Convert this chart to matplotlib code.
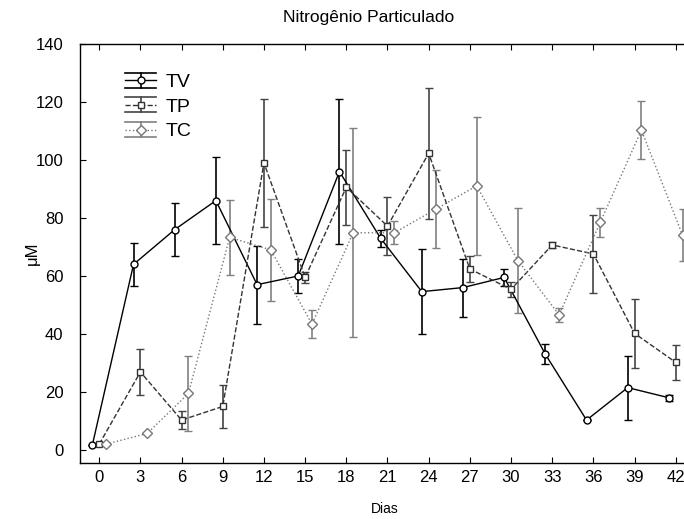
import numpy as np
import matplotlib.pyplot as plt
from matplotlib.legend_handler import HandlerBase
from matplotlib.lines import Line2D
from matplotlib.container import ErrorbarContainer

plt.rcParams['font.family'] = ['Liberation Sans', 'DejaVu Sans']

dias = [0, 3, 6, 9, 12, 15, 18, 21, 24, 27, 30, 33, 36, 39, 42]

tv = [1.7, 64, 76, 86, 57, 60, 96, 73, 54.6, 56, 59.5, 33, 10.3, 21.5, 18]
tv_err = [0, 7.4, 9, 15, 13.5, 6, 25, 3, 14.6, 10, 3, 3.5, 0, 11, 1]

tp = [2, 26.9, 10.3, 15, 99, 59.5, 90.6, 77.2, 102.3, 62.4, 55.4, 70.7, 67.6, 40.2, 30.2]
tp_err = [0, 8, 3, 7.3, 22, 2, 13, 10, 22.5, 4.5, 2.6, 1, 13.3, 12, 6]

tc = [2, 5.7, 19.5, 73.3, 69, 43.4, 74.9, 74.9, 83, 91.1, 65.3, 46.6, 78.5, 110.3, 74]
tc_err = [0, 0, 13, 13, 17.7, 4.8, 36, 4, 13.5, 23.7, 18, 2.4, 4.9, 10, 9]


class CapHandler(HandlerBase):
    # legend key: line + marker with an error bar whose caps span the key width
    def create_artists(self, legend, orig_handle, xdescent, ydescent,
                       width, height, fontsize, trans):
        data_line = orig_handle[0]
        bar = orig_handle[2][0]
        x0, x1 = -xdescent, -xdescent + width
        xc = (x0 + x1) / 2
        yc = height / 2 - ydescent
        d = height * 0.55
        ecol = bar.get_color()[0]
        line = Line2D([x0, x1], [yc, yc], linestyle=data_line.get_linestyle(),
                      color=data_line.get_color(), lw=1)
        vbar = Line2D([xc, xc], [yc - d, yc + d], color=ecol, lw=1.2)
        cap_lo = Line2D([x0, x1], [yc - d, yc - d], color=ecol, lw=1.2)
        cap_hi = Line2D([x0, x1], [yc + d, yc + d], color=ecol, lw=1.2)
        mark = Line2D([xc], [yc], marker=data_line.get_marker(), linestyle='none',
                      mfc='white', mec=data_line.get_color(),
                      ms=data_line.get_markersize())
        arts = [line, vbar, cap_lo, cap_hi, mark]
        for a in arts:
            a.set_transform(trans)
        return arts


fig = plt.figure(figsize=(6.84, 5.19), dpi=100)
ax = fig.add_axes([80 / 684, 56 / 519, 604 / 684, 419 / 519])

x = np.array(dias, dtype=float)
series = [
    (tv, tv_err, -0.5, 'TV', '-', 'o', 'black', 'black'),
    (tp, tp_err, 0.0, 'TP', '--', 's', '#333333', '#444444'),
    (tc, tc_err, 0.5, 'TC', ':', 'D', '#777777', '#808080'),
]
for vals, errs, dx, name, ls, mk, col, ecol in series:
    ax.errorbar(x + dx, vals, yerr=errs, label=name, linestyle=ls, marker=mk,
                color=col, ecolor=ecol, mfc='white', mec=col,
                ms=5 if mk != 'D' else 5.5, lw=1, elinewidth=1.2,
                capsize=3, capthick=1)

ax.set_xlim(-1.4, 42.6)
ax.set_ylim(-4.5, 140)
ax.set_xticks(dias)
ax.set_yticks(range(0, 141, 20))
ax.tick_params(axis='both', direction='in', labelsize=12, length=4,
               top=True, right=False)
ax.tick_params(axis='y', pad=12)
ax.tick_params(axis='x', pad=5)
for s in ax.spines.values():
    s.set_linewidth(1)
ax.spines['right'].set_visible(False)

ax.set_title('Nitrogênio Particulado', fontsize=12.5, pad=16, x=0.478)
ax.set_xlabel('Dias', fontsize=10, labelpad=12, x=0.505)
ax.set_ylabel('μM', fontsize=12, labelpad=-3)

leg = ax.legend(loc='upper left', bbox_to_anchor=(0.062, 0.948), frameon=False,
                fontsize=14, handlelength=1.6, handletextpad=0.5,
                labelspacing=0.36, borderaxespad=0,
                handler_map={ErrorbarContainer: CapHandler()})

fig.savefig('out.png', dpi=100)
